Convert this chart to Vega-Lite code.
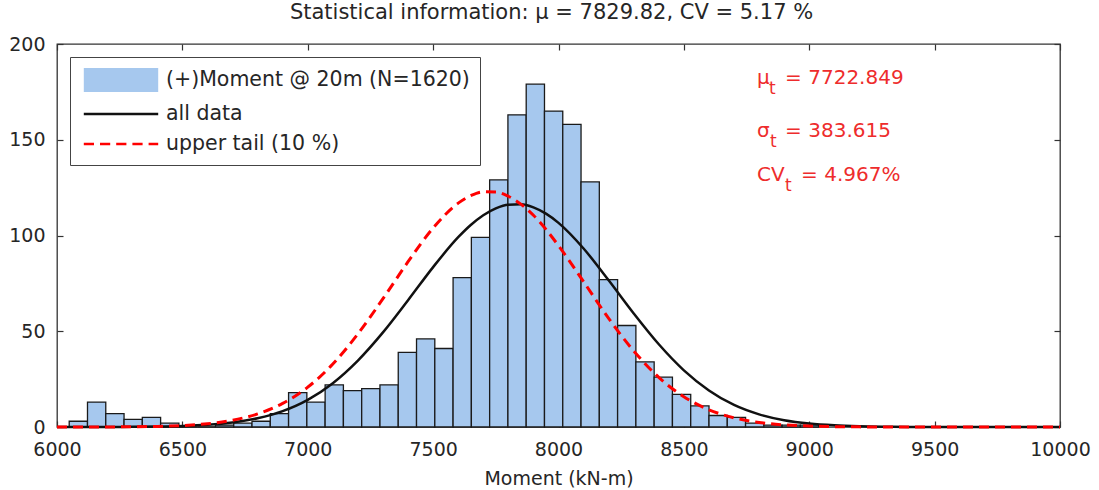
{
  "$schema": "https://vega.github.io/schema/vega-lite/v6.json",
  "width": 1003,
  "height": 383,
  "autosize": {"type": "none"},
  "padding": {"left": 57, "top": 44, "right": 39, "bottom": 63},
  "background": "white",
  "title": {"text": "Statistical information: μ = 7829.82, CV = 5.17 %", "fontSize": 21, "font": "DejaVu Sans", "fontWeight": "normal", "color": "#262626", "anchor": "middle", "offset": 12, "dx": -7},
  "config": {
    "view": {"stroke": "#333333", "strokeWidth": 1.3},
    "font": "DejaVu Sans",
    "axis": {"grid": false, "domain": false, "tickColor": "#333333", "tickWidth": 1.2, "labelFont": "DejaVu Sans", "titleFont": "DejaVu Sans", "labelColor": "#262626", "titleColor": "#262626"}
  },
  "datasets": {
    "bins": [
      {"b0": 6048.7, "b1": 6121.6, "count": 3},
      {"b0": 6121.6, "b1": 6194.5, "count": 13},
      {"b0": 6194.5, "b1": 6267.4, "count": 7},
      {"b0": 6267.4, "b1": 6340.3, "count": 4},
      {"b0": 6340.3, "b1": 6413.2, "count": 5},
      {"b0": 6413.2, "b1": 6486.1, "count": 2},
      {"b0": 6486.1, "b1": 6559.0, "count": 0},
      {"b0": 6559.0, "b1": 6631.9, "count": 0},
      {"b0": 6631.9, "b1": 6704.8, "count": 1},
      {"b0": 6704.8, "b1": 6777.7, "count": 2},
      {"b0": 6777.7, "b1": 6850.6, "count": 3},
      {"b0": 6850.6, "b1": 6923.5, "count": 7},
      {"b0": 6923.5, "b1": 6996.4, "count": 18},
      {"b0": 6996.4, "b1": 7069.3, "count": 13},
      {"b0": 7069.3, "b1": 7142.2, "count": 22},
      {"b0": 7142.2, "b1": 7215.1, "count": 19},
      {"b0": 7215.1, "b1": 7288.0, "count": 20},
      {"b0": 7288.0, "b1": 7360.9, "count": 22},
      {"b0": 7360.9, "b1": 7433.8, "count": 39},
      {"b0": 7433.8, "b1": 7506.7, "count": 46},
      {"b0": 7506.7, "b1": 7579.6, "count": 41},
      {"b0": 7579.6, "b1": 7652.5, "count": 78},
      {"b0": 7652.5, "b1": 7725.4, "count": 99},
      {"b0": 7725.4, "b1": 7798.3, "count": 129},
      {"b0": 7798.3, "b1": 7871.2, "count": 163},
      {"b0": 7871.2, "b1": 7944.1, "count": 179},
      {"b0": 7944.1, "b1": 8017.0, "count": 165},
      {"b0": 8017.0, "b1": 8089.9, "count": 158},
      {"b0": 8089.9, "b1": 8162.8, "count": 128},
      {"b0": 8162.8, "b1": 8235.7, "count": 77},
      {"b0": 8235.7, "b1": 8308.6, "count": 53},
      {"b0": 8308.6, "b1": 8381.5, "count": 34},
      {"b0": 8381.5, "b1": 8454.4, "count": 26},
      {"b0": 8454.4, "b1": 8527.3, "count": 17},
      {"b0": 8527.3, "b1": 8600.2, "count": 11},
      {"b0": 8600.2, "b1": 8673.1, "count": 6},
      {"b0": 8673.1, "b1": 8746.0, "count": 5},
      {"b0": 8746.0, "b1": 8818.9, "count": 2},
      {"b0": 8818.9, "b1": 8891.8, "count": 1},
      {"b0": 8891.8, "b1": 8964.7, "count": 1},
      {"b0": 8964.7, "b1": 9037.6, "count": 1}
    ],
    "black": [
      {"x": 6000, "y": 0.004}, {"x": 6100, "y": 0.013}, {"x": 6200, "y": 0.035}, {"x": 6300, "y": 0.092},
      {"x": 6400, "y": 0.227}, {"x": 6500, "y": 0.53}, {"x": 6600, "y": 1.15}, {"x": 6700, "y": 2.37},
      {"x": 6800, "y": 4.58}, {"x": 6900, "y": 8.32}, {"x": 7000, "y": 14.2}, {"x": 7100, "y": 22.9},
      {"x": 7200, "y": 34.7}, {"x": 7300, "y": 49.4}, {"x": 7400, "y": 66.2}, {"x": 7500, "y": 83.5},
      {"x": 7600, "y": 99.1}, {"x": 7650, "y": 105.5}, {"x": 7700, "y": 110.6}, {"x": 7750, "y": 114.2},
      {"x": 7800, "y": 116.1}, {"x": 7850, "y": 116.3}, {"x": 7900, "y": 114.7}, {"x": 7950, "y": 111.4},
      {"x": 8000, "y": 106.6}, {"x": 8100, "y": 93.2}, {"x": 8200, "y": 76.6}, {"x": 8300, "y": 59.3},
      {"x": 8400, "y": 43.2}, {"x": 8500, "y": 29.6}, {"x": 8600, "y": 19.1}, {"x": 8700, "y": 11.5},
      {"x": 8800, "y": 6.59}, {"x": 8900, "y": 3.53}, {"x": 9000, "y": 1.78}, {"x": 9100, "y": 0.85},
      {"x": 9200, "y": 0.38}, {"x": 9300, "y": 0.16}, {"x": 9400, "y": 0.06}, {"x": 9500, "y": 0.02},
      {"x": 9600, "y": 0.01}, {"x": 9800, "y": 0}, {"x": 10000, "y": 0}
    ],
    "red": [
      {"x": 6000, "y": 0.005}, {"x": 6100, "y": 0.016}, {"x": 6200, "y": 0.047}, {"x": 6300, "y": 0.127},
      {"x": 6400, "y": 0.32}, {"x": 6500, "y": 0.77}, {"x": 6600, "y": 1.7}, {"x": 6700, "y": 3.52},
      {"x": 6800, "y": 6.82}, {"x": 6900, "y": 12.3}, {"x": 7000, "y": 20.8}, {"x": 7100, "y": 32.9},
      {"x": 7200, "y": 48.6}, {"x": 7300, "y": 67.0}, {"x": 7400, "y": 86.3}, {"x": 7500, "y": 103.9},
      {"x": 7600, "y": 116.9}, {"x": 7650, "y": 120.8}, {"x": 7700, "y": 122.8}, {"x": 7750, "y": 122.7},
      {"x": 7800, "y": 120.5}, {"x": 7850, "y": 116.4}, {"x": 7900, "y": 110.6}, {"x": 8000, "y": 94.7},
      {"x": 8100, "y": 75.9}, {"x": 8200, "y": 56.7}, {"x": 8300, "y": 39.7}, {"x": 8400, "y": 25.9},
      {"x": 8500, "y": 15.8}, {"x": 8600, "y": 9.0}, {"x": 8700, "y": 4.8}, {"x": 8800, "y": 2.39},
      {"x": 8900, "y": 1.11}, {"x": 9000, "y": 0.48}, {"x": 9100, "y": 0.2}, {"x": 9200, "y": 0.07},
      {"x": 9300, "y": 0.02}, {"x": 9500, "y": 0}, {"x": 10000, "y": 0}
    ]
  },
  "layer": [
    {
      "data": {"name": "bins"},
      "mark": {"type": "bar", "fill": "#a6c8ee", "stroke": "#1a1a1a", "strokeWidth": 1.3},
      "encoding": {
        "x": {"field": "b0", "type": "quantitative", "scale": {"domain": [6000, 10000], "nice": false, "zero": false},
          "axis": {"orient": "bottom", "values": [6000, 6500, 7000, 7500, 8000, 8500, 9000, 9500, 10000], "format": "d", "title": "Moment (kN-m)", "titleFontSize": 19, "titleFontWeight": "normal", "titlePadding": 10, "labelFontSize": 19, "labelPadding": 19, "tickSize": -6, "labelFlush": false, "labelOverlap": false}},
        "x2": {"field": "b1"},
        "y": {"field": "count", "type": "quantitative", "scale": {"domain": [0, 200], "nice": false},
          "axis": {"orient": "left", "values": [0, 50, 100, 150, 200], "title": null, "labelFontSize": 19, "labelPadding": 18, "tickSize": -6}},
        "y2": {"datum": 0}
      }
    },
    {
      "data": {"name": "black"},
      "mark": {"type": "line", "color": "#111111", "strokeWidth": 2.5, "interpolate": "monotone", "clip": false},
      "encoding": {
        "x": {"field": "x", "type": "quantitative", "scale": {"domain": [6000, 10000], "nice": false, "zero": false},
          "axis": {"orient": "top", "values": [6000, 6500, 7000, 7500, 8000, 8500, 9000, 9500, 10000], "labels": false, "title": null, "tickSize": -6}},
        "y": {"field": "y", "type": "quantitative", "scale": {"domain": [0, 200], "nice": false},
          "axis": {"orient": "right", "values": [0, 50, 100, 150, 200], "labels": false, "title": null, "tickSize": -6}}
      }
    },
    {
      "data": {"name": "red"},
      "mark": {"type": "line", "color": "#ff0000", "strokeWidth": 3, "strokeDash": [10, 6], "interpolate": "monotone", "clip": false},
      "encoding": {
        "x": {"field": "x", "type": "quantitative", "scale": {"domain": [6000, 10000], "nice": false, "zero": false}, "axis": null},
        "y": {"field": "y", "type": "quantitative", "scale": {"domain": [0, 200], "nice": false}, "axis": null}
      }
    },
    {
      "data": {"values": []},
      "mark": {"type": "point", "filled": true,
        "fill": {"expr": "datum.value === 'all data' ? '#111111' : datum.value === 'upper tail (10 %)' ? '#ff0000' : '#a6c8ee'"},
        "stroke": {"expr": "datum.value === 'all data' ? '#111111' : datum.value === 'upper tail (10 %)' ? '#ff0000' : '#1a1a1a'"},
        "strokeWidth": 1.3},
      "encoding": {
        "x": {"field": "x", "type": "quantitative", "scale": {"domain": [6000, 10000], "nice": false, "zero": false}, "axis": null},
        "y": {"field": "y", "type": "quantitative", "scale": {"domain": [0, 200], "nice": false}, "axis": null},
        "shape": {"field": "series", "type": "nominal",
          "scale": {"domain": ["(+)Moment @ 20m (N=1620)", "all data", "upper tail (10 %)"],
            "range": ["M-3.1,-1H3.1V1H-3.1Z", "M-3.1,-0.11H3.1V0.11H-3.1Z", "M-3.1,-0.11H-2.25V0.11H-3.1Z M-1.75,-0.11H-0.9V0.11H-1.75Z M-0.4,-0.11H0.45V0.11H-0.4Z M0.95,-0.11H1.8V0.11H0.95Z M2.3,-0.11H3.1V0.11H2.3Z"]},
          "legend": {"orient": "top-left", "offset": 13, "direction": "vertical", "title": null, "fillColor": "white", "strokeColor": "#444444", "padding": 10,
            "labelFontSize": 20.5, "labelFont": "DejaVu Sans", "labelColor": "#262626", "labelLimit": 0,
            "symbolSize": 576, "symbolOffset": 28, "labelOffset": 32, "rowPadding": 6, "symbolOpacity": 1,
            "symbolFillColor": {"expr": "datum.value === 'all data' ? '#111111' : datum.value === 'upper tail (10 %)' ? '#ff0000' : '#a6c8ee'"},
            "symbolStrokeColor": {"expr": "datum.value === 'all data' ? '#111111' : datum.value === 'upper tail (10 %)' ? '#ff0000' : '#1a1a1a'"},
            "symbolStrokeWidth": 1.3,
            "encode": {"symbols": {
              "stroke": {"value": {"expr": "datum.value === 'all data' ? '#111111' : datum.value === 'upper tail (10 %)' ? '#ff0000' : '#1a1a1a'"}},
              "strokeWidth": {"value": {"expr": "datum.value === '(+)Moment @ 20m (N=1620)' ? 1.5 : 0.4"}}
            }}
          }
        }
      }
    },
    {
      "data": {"values": [{}]},
      "mark": {"type": "text", "text": "μ", "align": "left", "baseline": "middle", "fontSize": 20, "color": "#ee2c2c"},
      "encoding": {"x": {"datum": 8792, "type": "quantitative", "axis": null}, "y": {"datum": 182, "type": "quantitative", "axis": null}}
    },
    {
      "data": {"values": [{}]},
      "mark": {"type": "text", "text": "t", "align": "left", "baseline": "middle", "fontSize": 17, "dx": 12, "dy": 11, "color": "#ee2c2c"},
      "encoding": {"x": {"datum": 8792, "type": "quantitative", "axis": null}, "y": {"datum": 182, "type": "quantitative", "axis": null}}
    },
    {
      "data": {"values": [{}]},
      "mark": {"type": "text", "text": "= 7722.849", "align": "left", "baseline": "middle", "fontSize": 20, "dx": 28, "color": "#ee2c2c"},
      "encoding": {"x": {"datum": 8792, "type": "quantitative", "axis": null}, "y": {"datum": 182, "type": "quantitative", "axis": null}}
    },
    {
      "data": {"values": [{}]},
      "mark": {"type": "text", "text": "σ", "align": "left", "baseline": "middle", "fontSize": 20, "color": "#ee2c2c"},
      "encoding": {"x": {"datum": 8792, "type": "quantitative", "axis": null}, "y": {"datum": 154.5, "type": "quantitative", "axis": null}}
    },
    {
      "data": {"values": [{}]},
      "mark": {"type": "text", "text": "t", "align": "left", "baseline": "middle", "fontSize": 17, "dx": 13, "dy": 11, "color": "#ee2c2c"},
      "encoding": {"x": {"datum": 8792, "type": "quantitative", "axis": null}, "y": {"datum": 154.5, "type": "quantitative", "axis": null}}
    },
    {
      "data": {"values": [{}]},
      "mark": {"type": "text", "text": "= 383.615", "align": "left", "baseline": "middle", "fontSize": 20, "dx": 28, "color": "#ee2c2c"},
      "encoding": {"x": {"datum": 8792, "type": "quantitative", "axis": null}, "y": {"datum": 154.5, "type": "quantitative", "axis": null}}
    },
    {
      "data": {"values": [{}]},
      "mark": {"type": "text", "text": "CV", "align": "left", "baseline": "middle", "fontSize": 20, "color": "#ee2c2c"},
      "encoding": {"x": {"datum": 8792, "type": "quantitative", "axis": null}, "y": {"datum": 131.5, "type": "quantitative", "axis": null}}
    },
    {
      "data": {"values": [{}]},
      "mark": {"type": "text", "text": "t", "align": "left", "baseline": "middle", "fontSize": 17, "dx": 28, "dy": 11, "color": "#ee2c2c"},
      "encoding": {"x": {"datum": 8792, "type": "quantitative", "axis": null}, "y": {"datum": 131.5, "type": "quantitative", "axis": null}}
    },
    {
      "data": {"values": [{}]},
      "mark": {"type": "text", "text": "= 4.967%", "align": "left", "baseline": "middle", "fontSize": 20, "dx": 44, "color": "#ee2c2c"},
      "encoding": {"x": {"datum": 8792, "type": "quantitative", "axis": null}, "y": {"datum": 131.5, "type": "quantitative", "axis": null}}
    }
  ]
}
